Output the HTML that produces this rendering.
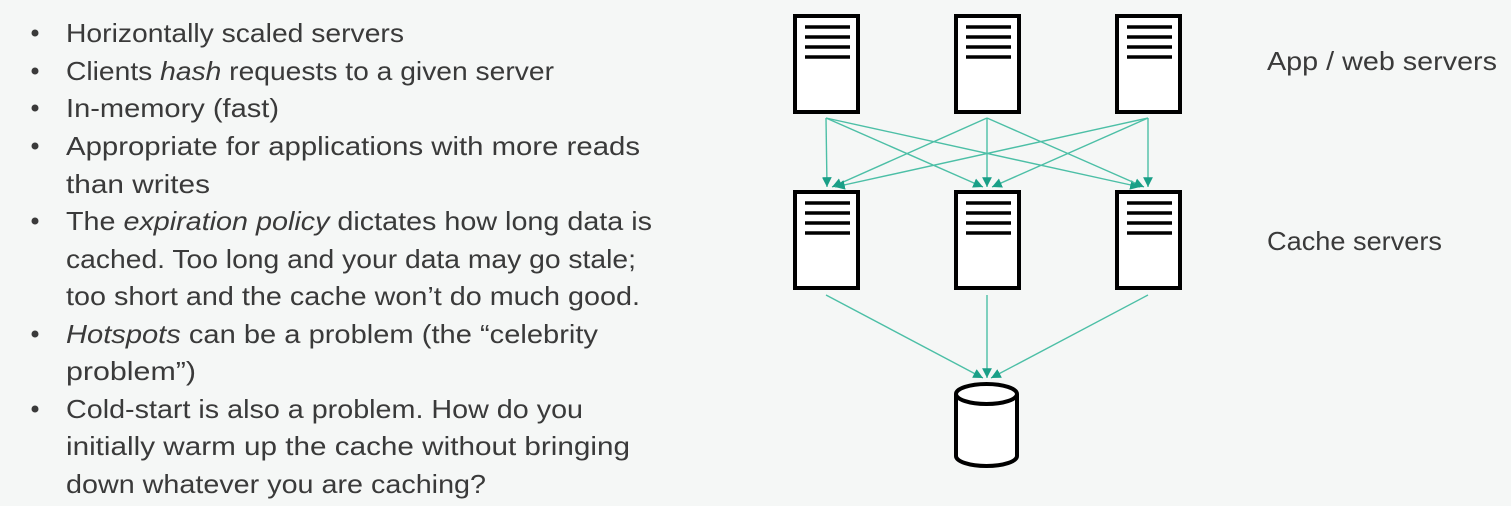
<!DOCTYPE html>
<html><head><meta charset="utf-8"><style>
html,body{margin:0;padding:0;background:#f5f7f6;}
svg{display:block}
text{font-family:"Liberation Sans",sans-serif;font-size:26px;fill:#3a3a3a}
</style></head><body>
<svg width="1511" height="506" viewBox="0 0 1511 506" xmlns="http://www.w3.org/2000/svg">
<rect width="1511" height="506" fill="#f5f7f6"/>
<g fill="#3a3a3a">
<circle cx="35" cy="33" r="3.5"/><circle cx="35" cy="71" r="3.5"/><circle cx="35" cy="108" r="3.5"/><circle cx="35" cy="146" r="3.5"/><circle cx="35" cy="221" r="3.5"/><circle cx="35" cy="334" r="3.5"/><circle cx="35" cy="409" r="3.5"/>
</g>
<g>
<text x="66" y="42" textLength="338" lengthAdjust="spacingAndGlyphs">Horizontally scaled servers</text>
<text x="66" y="80" textLength="488" lengthAdjust="spacingAndGlyphs">Clients <tspan font-style="italic">hash</tspan> requests to a given server</text>
<text x="66" y="117" textLength="213" lengthAdjust="spacingAndGlyphs">In-memory (fast)</text>
<text x="66" y="155" textLength="574" lengthAdjust="spacingAndGlyphs">Appropriate for applications with more reads</text>
<text x="66" y="193" textLength="144" lengthAdjust="spacingAndGlyphs">than writes</text>
<text x="66" y="230" textLength="586" lengthAdjust="spacingAndGlyphs">The <tspan font-style="italic">expiration policy</tspan> dictates how long data is</text>
<text x="66" y="268" textLength="570" lengthAdjust="spacingAndGlyphs">cached. Too long and your data may go stale;</text>
<text x="66" y="305" textLength="574" lengthAdjust="spacingAndGlyphs">too short and the cache won’t do much good.</text>
<text x="66" y="343" textLength="532" lengthAdjust="spacingAndGlyphs"><tspan font-style="italic">Hotspots</tspan> can be a problem (the “celebrity</text>
<text x="66" y="380" textLength="130" lengthAdjust="spacingAndGlyphs">problem”)</text>
<text x="66" y="418" textLength="517" lengthAdjust="spacingAndGlyphs">Cold-start is also a problem. How do you</text>
<text x="66" y="455" textLength="564" lengthAdjust="spacingAndGlyphs">initially warm up the cache without bringing</text>
<text x="66" y="493" textLength="420" lengthAdjust="spacingAndGlyphs">down whatever you are caching?</text>
<text x="1267" y="70" textLength="230" lengthAdjust="spacingAndGlyphs">App / web servers</text>
<text x="1267" y="250" textLength="175" lengthAdjust="spacingAndGlyphs">Cache servers</text>
</g>
<defs>
<marker id="a" viewBox="0 0 10 10" refX="10" refY="5" markerWidth="7" markerHeight="7" orient="auto"><path d="M0,0 L10,5 L0,10z" fill="#1a9f87"/></marker>
<g id="srv">
<rect x="0" y="0" width="63" height="96" fill="#fff" stroke="#000" stroke-width="4"/>
<g stroke="#000" stroke-width="3.5"><line x1="10" y1="11" x2="55" y2="11"/><line x1="10" y1="21" x2="55" y2="21"/><line x1="10" y1="31" x2="55" y2="31"/><line x1="10" y1="41" x2="55" y2="41"/></g>
</g>
</defs>
<use href="#srv" x="795" y="16"/><use href="#srv" x="956" y="16"/><use href="#srv" x="1117" y="16"/>
<use href="#srv" x="795" y="192"/><use href="#srv" x="956" y="192"/><use href="#srv" x="1117" y="192"/>
<g stroke="#4cbfa6" stroke-width="1.4" fill="none" marker-end="url(#a)">
<line x1="826" y1="118" x2="827" y2="187"/>
<line x1="826" y1="118" x2="983" y2="187"/>
<line x1="826" y1="118" x2="1140" y2="187"/>
<line x1="987" y1="118" x2="832" y2="187"/>
<line x1="987" y1="118" x2="987" y2="187"/>
<line x1="987" y1="118" x2="1144" y2="187"/>
<line x1="1148" y1="118" x2="835" y2="187"/>
<line x1="1148" y1="118" x2="992" y2="187"/>
<line x1="1148" y1="118" x2="1148" y2="187"/>
<line x1="826" y1="295" x2="983" y2="378"/>
<line x1="987" y1="295" x2="987" y2="378"/>
<line x1="1148" y1="295" x2="991" y2="378"/>
</g>
<path d="M956,394 L956,456 A30.5,10 0 0 0 1017,456 L1017,394" fill="#fff" stroke="#000" stroke-width="4"/>
<ellipse cx="986.5" cy="394" rx="30.5" ry="10" fill="#fff" stroke="#000" stroke-width="4"/>
</svg>
</body></html>
